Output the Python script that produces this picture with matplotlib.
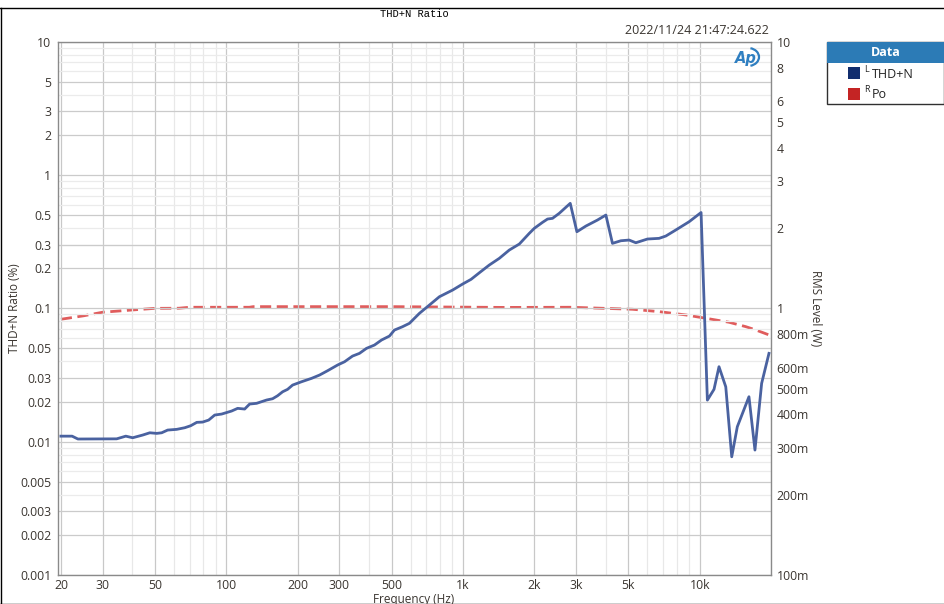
import matplotlib
matplotlib.use("Agg")
import matplotlib.pyplot as plt
from matplotlib.lines import Line2D
from matplotlib.patches import Rectangle, Arc
import numpy as np

# ---- data ----
thd_freq = [20, 22.3, 23.6, 34.4, 37.6, 40.2, 44.3, 47.5, 50.8, 53.3, 56.5, 61.7, 66.7, 70.7,
            75.0, 79.4, 84.2, 89.3, 95.5, 105.3, 111.6, 119.5, 125.4, 134.2, 147.9, 156.8,
            164.6, 172.9, 181.4, 190.5, 207.8, 229.1, 247.6, 267.6, 294.9, 315.7, 341.2,
            365.1, 390.8, 422.4, 452.2, 488.7, 513, 554.5, 593.5, 654.1, 720.6, 794.3, 904,
            996, 1081, 1172, 1291, 1423, 1568, 1729, 1905, 2000, 2167, 2275, 2388, 2549, 2837,
            3027, 3304, 3698, 4013, 4278, 4642, 5031, 5370, 6012, 6735, 7187, 7918, 9016,
            10130, 10770, 11490, 12060, 12880, 13650, 14410, 16140, 17110, 18260, 19610]
thd_pct = [0.0110, 0.0110, 0.01047, 0.0105, 0.0110, 0.0107, 0.01121, 0.01166, 0.01154, 0.01166,
           0.01222, 0.01237, 0.01272, 0.01317, 0.01396, 0.01403, 0.01452, 0.01584, 0.01611,
           0.01698, 0.01778, 0.01757, 0.01915, 0.01939, 0.02053, 0.02099, 0.0221, 0.02368,
           0.02468, 0.02658, 0.02815, 0.02985, 0.0316, 0.03404, 0.03755, 0.03975, 0.04385,
           0.04596, 0.0501, 0.05305, 0.05783, 0.06197, 0.06873, 0.07278, 0.0772, 0.09173,
           0.1058, 0.1222, 0.1372, 0.1522, 0.165, 0.1849, 0.2113, 0.2372, 0.2737, 0.3037,
           0.3653, 0.3983, 0.4417, 0.4676, 0.4733, 0.5161, 0.6133, 0.3755, 0.4143, 0.4597,
           0.501, 0.3073, 0.3214, 0.3253, 0.3105, 0.3311, 0.335, 0.3486, 0.3868, 0.4463,
           0.5233, 0.0205, 0.0247, 0.0365, 0.0258, 0.0077, 0.01294, 0.02173, 0.00865,
           0.02738, 0.04596]

po_freq = [20, 25, 30, 40, 50, 63, 70, 125, 130, 500, 1500, 2855, 5195, 6735, 8730,
           10600, 13290, 15630, 17230, 19610]
po_w = [0.910, 0.938, 0.967, 0.986, 1.000, 1.001, 1.0095, 1.0095, 1.0148, 1.0148, 1.008,
        1.0095, 0.9922, 0.9719, 0.9447, 0.918, 0.887, 0.854, 0.830, 0.795]

left_ticks = [10, 5, 3, 2, 1, 0.5, 0.3, 0.2, 0.1, 0.05, 0.03, 0.02, 0.01, 0.005, 0.003, 0.002, 0.001]
left_labels = ["10", "5", "3", "2", "1", "0.5", "0.3", "0.2", "0.1", "0.05", "0.03", "0.02",
               "0.01", "0.005", "0.003", "0.002", "0.001"]
right_ticks = [10, 8, 6, 5, 4, 3, 2, 1, 0.8, 0.6, 0.5, 0.4, 0.3, 0.2, 0.1]
right_labels = ["10", "8", "6", "5", "4", "3", "2", "1", "800m", "600m", "500m", "400m",
                "300m", "200m", "100m"]
x_ticks = [20, 30, 50, 100, 200, 300, 500, 1000, 2000, 3000, 5000, 10000]
x_labels = ["20", "30", "50", "100", "200", "300", "500", "1k", "2k", "3k", "5k", "10k"]

W, H = 945, 604
fig = plt.figure(figsize=(W / 100, H / 100), dpi=100)
fig.patch.set_facecolor("white")


def fx(x):
    return x / W


def fy(y):
    return 1 - y / H


font = "Open Sans"
tick_color = "#3a3530"

l, r, t, b = 58.3, 771, 41.7, 575
ax = fig.add_axes([fx(l), fy(b), fx(r - l), (b - t) / H])
ax.set_xscale("log")
ax.set_yscale("log")
ax.set_xlim(19.5, 20000)
ax.set_ylim(0.001, 10)

# grid
minor_x = [m * 10 ** e for e in range(1, 5) for m in range(1, 10)]
minor_x = [v for v in minor_x if 19.5 <= v <= 20000 and v not in x_ticks]
minor_y = [m * 10 ** e for e in range(-3, 1) for m in range(1, 10)]
minor_y = [v for v in minor_y if v not in left_ticks and 0.001 <= v <= 10]
for v in minor_x:
    ax.axvline(v, color="#e8e8e8", lw=0.9, zorder=0)
for v in x_ticks:
    ax.axvline(v, color="#c8c8c8", lw=0.9, zorder=0)
for v in minor_y:
    ax.axhline(v, color="#ebebeb", lw=0.9, zorder=0)
for v in left_ticks:
    ax.axhline(v, color="#cbcbcb", lw=0.9, zorder=0)

ax.set_xticks(x_ticks)
ax.set_xticklabels(x_labels)
ax.set_xticks([], minor=True)
ax.set_yticks(left_ticks)
ax.set_yticklabels(left_labels)
ax.set_yticks([], minor=True)
ax.tick_params(axis="both", which="both", length=0, labelsize=8.8, colors=tick_color)
ax.tick_params(axis="y", pad=5)
ax.tick_params(axis="x", pad=3)
for lab in ax.get_xticklabels() + ax.get_yticklabels():
    lab.set_fontfamily(font)

for s in ax.spines.values():
    s.set_color("#8a8a8a")
    s.set_linewidth(1.0)

ax.plot(thd_freq, thd_pct, color="#4a62a0", lw=2.0, zorder=4, solid_joinstyle="round")

ax2 = ax.twinx()
ax2.set_yscale("log")
ax2.set_ylim(0.1, 10)
ax2.set_yticks(right_ticks)
ax2.set_yticklabels(right_labels)
ax2.set_yticks([], minor=True)
ax2.tick_params(axis="y", which="both", length=0, labelsize=8.8, colors=tick_color, pad=4)
for lab in ax2.get_yticklabels():
    lab.set_fontfamily(font)
for s in ax2.spines.values():
    s.set_visible(False)
ax2.plot(po_freq, po_w, color="#e05c5c", lw=2.0, ls=(0, (4, 2)), zorder=3)
ax2.set_zorder(ax.get_zorder() - 1)
ax.patch.set_visible(False)
ax2.patch.set_visible(True)
ax2.patch.set_facecolor("white")

# axis labels
fig.text(fx(15), fy(308), "THD+N Ratio (%)", rotation=90, ha="center", va="center",
         fontsize=8.5, color=tick_color, family=font)
fig.text(fx(816), fy(308), "RMS Level (W)", rotation=270, ha="center", va="center",
         fontsize=8.5, color=tick_color, family=font)
fig.text(fx(414), fy(599), "Frequency (Hz)", ha="center", va="center",
         fontsize=8.5, color=tick_color, family=font)

# title and timestamp
fig.text(fx(414), fy(14), "THD+N Ratio", ha="center", va="center", fontsize=7.5,
         family="Liberation Mono", color="black")
fig.text(fx(769), fy(30), "2022/11/24 21:47:24.622", ha="right", va="center",
         fontsize=9, family=font, color=tick_color)

# AP logo
fig.text(fx(746), fy(58), "Ap", ha="center", va="center", fontsize=10.5, style="italic",
         weight="bold", color="#2f7fc1", family="DejaVu Sans")
fig.add_artist(Arc((fx(748), fy(57)), fx(22), 18 / H, theta1=-80, theta2=80,
                   transform=fig.transFigure, color="#2f7fc1", lw=1.6))

# legend box
lx0, lx1, ly0, ly1, lyh = 827, 944, 42, 104, 63
fig.add_artist(Rectangle((fx(lx0), fy(ly1)), fx(lx1 - lx0), (ly1 - ly0) / H,
                         transform=fig.transFigure, facecolor="white", edgecolor="#303030",
                         lw=1.0))
fig.add_artist(Rectangle((fx(lx0), fy(lyh)), fx(lx1 - lx0), (lyh - ly0) / H,
                         transform=fig.transFigure, facecolor="#2c7bb6", edgecolor="none"))
fig.text(fx((lx0 + lx1) / 2), fy(53), "Data", ha="center", va="center", fontsize=9,
         weight="bold", color="white", family=font)
fig.add_artist(Rectangle((fx(848), fy(79)), fx(12), 12 / H, transform=fig.transFigure,
                         facecolor="#122e6e", edgecolor="none"))
fig.add_artist(Rectangle((fx(848), fy(100)), fx(12), 12 / H, transform=fig.transFigure,
                         facecolor="#c42424", edgecolor="none"))
fig.text(fx(864), fy(69), "L", ha="left", va="center", fontsize=6.5, color="#222", family=font)
fig.text(fx(872), fy(74), "THD+N", ha="left", va="center", fontsize=9, color="#222", family=font)
fig.text(fx(864), fy(90), "R", ha="left", va="center", fontsize=6.5, color="#222", family=font)
fig.text(fx(872), fy(95), "Po", ha="left", va="center", fontsize=9, color="#222", family=font)

# outer frame (top, left, bottom)
fig.add_artist(Line2D([0, 1], [fy(8), fy(8)], transform=fig.transFigure, color="black", lw=1))
fig.add_artist(Line2D([fx(0.5), fx(0.5)], [fy(8), fy(603.5)], transform=fig.transFigure,
                      color="black", lw=1))
fig.add_artist(Line2D([0, 1], [fy(603.5), fy(603.5)], transform=fig.transFigure,
                      color="black", lw=1))

fig.savefig("out.png", dpi=100, facecolor="white")
